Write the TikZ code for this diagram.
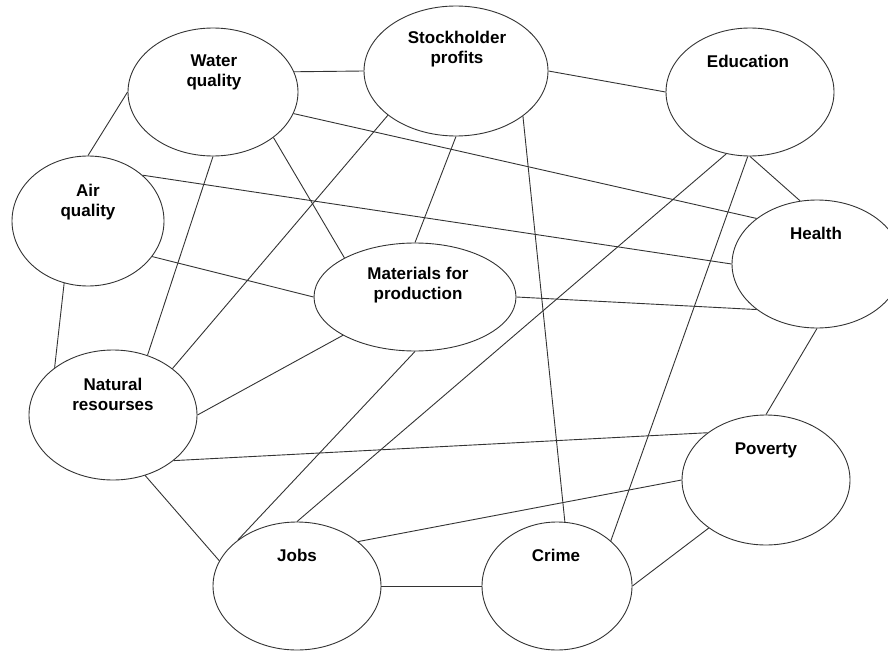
\documentclass[tikz,border=0pt]{standalone}
\usepackage{fontspec}
\setmainfont{Liberation Sans}
\usetikzlibrary{shapes.geometric}

\begin{document}
\begin{tikzpicture}[x=1pt, y=-1pt,
            bubble/.style={ellipse, draw=black!80, line width=0.9pt, inner sep=0pt},
            tag/.style={font=\fontsize{17}{20}\selectfont\bfseries, align=center, inner sep=0pt},
            link/.style={draw=black!80, line width=0.9pt},
            ]
            \useasboundingbox (0,0) rectangle (888,650);

            \node[bubble, minimum width=170pt, minimum height=128pt] (water) at (213,92) {};
            \node[bubble, minimum width=184pt, minimum height=130pt] (stock) at (456,71) {};
            \node[bubble, minimum width=168pt, minimum height=128pt] (educ) at (750,92) {};
            \node[bubble, minimum width=152pt, minimum height=130pt] (air) at (88,221) {};
            \node[bubble, minimum width=202pt, minimum height=108pt] (mat) at (415,297) {};
            \node[bubble, minimum width=170pt, minimum height=128pt] (health) at (817,264) {};
            \node[bubble, minimum width=168pt, minimum height=130pt] (nat) at (113,415) {};
            \node[bubble, minimum width=168pt, minimum height=130pt] (pov) at (766,480) {};
            \node[bubble, minimum width=168pt, minimum height=128pt] (jobs) at (297,586) {};
            \node[bubble, minimum width=150pt, minimum height=128pt] (crime) at (557,586) {};

            \node[tag] (water-t) at (214,72.5) {Water\\quality};
            \node[tag] (stock-t) at (457,49.5) {Stockholder\\profits};
            \node[tag] (educ-t) at (748,61.5) {Education};
            \node[tag] (air-t) at (88,202) {Air\\quality};
            \node[tag] (mat-t) at (418,285) {Materials for\\production};
            \node[tag] (health-t) at (816,233.5) {Health};
            \node[tag] (nat-t) at (113,394) {Natural\\resourses};
            \node[tag] (pov-t) at (766,450) {Poverty};
            \node[tag] (jobs-t) at (297,555) {Jobs};
            \node[tag] (crime-t) at (556,555) {Crime};

            \draw[link] (water.14) -- (stock.180);
            \draw[link] (stock.0) -- (educ.180);
            \draw[link] (water.180) -- (air.90);
            \draw[link] (water.-15) -- (health.143);
            \draw[link] (water.-37) -- (mat.151);
            \draw[link] (water.270) -- (nat.60);
            \draw[link] (stock.213) -- (nat.38);
            \draw[link] (stock.270) -- (mat.90);
            \draw[link] (stock.-34) -- (crime.83);
            \draw[link] (educ.270) -- (health.105);
            \draw[link] (educ.249) -- (jobs.90);
            \draw[link] (educ.268) -- (crime.40);
            \draw[link] (air.40) -- (health.180);
            \draw[link] (air.-29) -- (mat.180);
            \draw[link] (air.249) -- (nat.141);
            \draw[link] (mat.0) -- (health.-143);
            \draw[link] (mat.208) -- (nat.0);
            \draw[link] (mat.270) -- (jobs.142);
            \draw[link] (health.270) -- (pov.90);
            \draw[link] (nat.-37) -- (pov.141);
            \draw[link] (nat.-62) -- (jobs.162);
            \draw[link] (pov.180) -- (jobs.36);
            \draw[link] (pov.220) -- (crime.0);
            \draw[link] (jobs.0) -- (crime.180);
        \end{tikzpicture}
\end{document}
